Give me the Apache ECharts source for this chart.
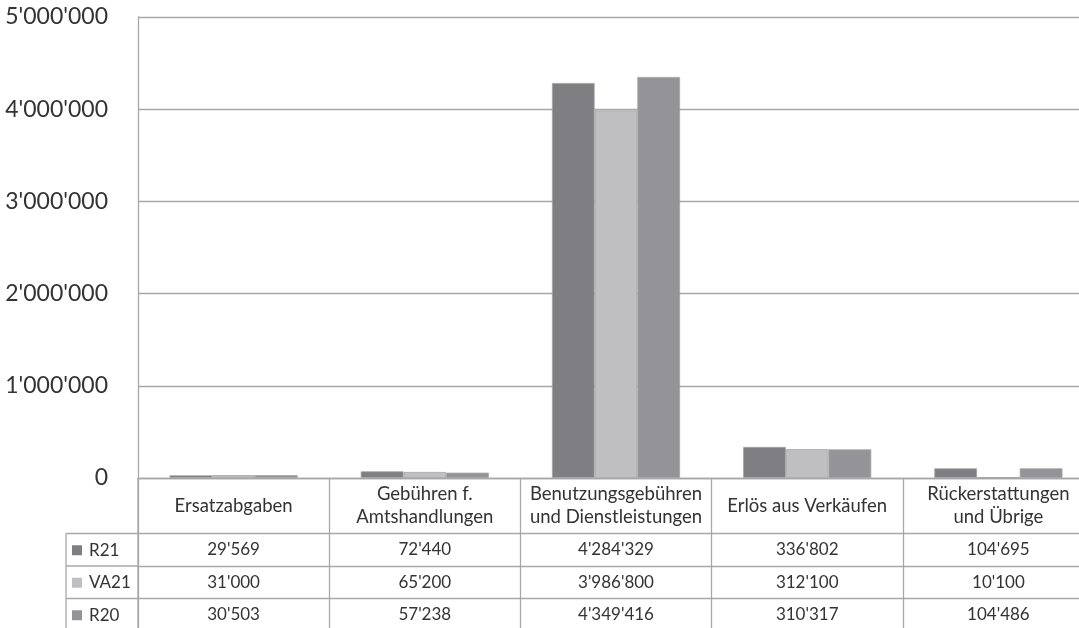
<!DOCTYPE html>
<html>
<head>
<meta charset="utf-8">
<script src="https://cdn.jsdelivr.net/npm/echarts@6/dist/echarts.min.js"></script>
<style>
  html, body { margin: 0; padding: 0; background: #fff; }
  #chart { width: 1079px; height: 628px; }
</style>
</head>
<body>
<div id="chart"></div>
<script>
// Daten
const categories = [
  "Ersatzabgaben",
  "Gebühren f.\nAmtshandlungen",
  "Benutzungsgebühren\nund Dienstleistungen",
  "Erlös aus Verkäufen",
  "Rückerstattungen\nund Übrige"
];
const seriesNames = ["R21", "VA21", "R20"];
const r21 = [29569, 72440, 4284329, 336802, 104695];
const va21 = [31000, 65200, 3986800, 312100, 10100];
const r20 = [30503, 57238, 4349416, 310317, 104486];
const yTicks = [0, 1000000, 2000000, 3000000, 4000000, 5000000];

// Layout
const gridLeft = 138, gridTop = 17, gridW = 956, gridH = 461;
const headH = 55.5, rowH = 32.5, tableLeft = 66;
const lineCol = "#a8a8a8";
const textCol = "#333333";
const font = "Lato";

function fmt(v) {
  return String(v).replace(/\B(?=(\d{3})+(?!\d))/g, "'");
}

const colors = ["#7f7f83", "#bfbfc2", "#949498"];
const rows = [r21, va21, r20];

// Tabellenzeilen als zusaetzliche x-Achsen
const rowAxes = rows.map((vals, i) => ({
  type: "category",
  gridIndex: 0,
  position: "bottom",
  offset: headH + i * rowH,
  data: vals.map(fmt),
  axisLine: { show: true, lineStyle: { color: lineCol, width: 1.3 } },
  axisTick: { show: true, length: rowH, interval: 0, lineStyle: { color: lineCol, width: 1.3 } },
  axisLabel: {
    interval: 0, margin: rowH / 2, verticalAlign: "middle",
    fontFamily: font, fontSize: 17, color: textCol
  },
  splitLine: { show: false }
}));

// Legende je Tabellenzeile
const legends = seriesNames.map((name, i) => ({
  orient: "vertical",
  left: 72,
  top: gridTop + gridH + headH + i * rowH + rowH / 2 - 8,
  data: [name],
  icon: "rect",
  itemWidth: 10,
  itemHeight: 10,
  itemGap: 0,
  padding: 0,
  selectedMode: false,
  itemStyle: { borderWidth: 0 },
  textStyle: { fontFamily: font, fontSize: 17, color: textCol, lineHeight: 16, padding: [0, 0, 0, 2] }
}));

const graphics = [];
for (let i = 0; i < 3; i++) {
  const y = gridTop + gridH + headH + i * rowH;
  graphics.push({
    type: "line", silent: true,
    shape: { x1: tableLeft, y1: y, x2: gridLeft, y2: y },
    style: { stroke: lineCol, lineWidth: 1.3 }
  });
}
graphics.push({
  type: "line", silent: true,
  shape: { x1: tableLeft, y1: gridTop + gridH + headH, x2: tableLeft, y2: 640 },
  style: { stroke: lineCol, lineWidth: 1.3 }
});
graphics.push({
  type: "line", silent: true,
  shape: { x1: gridLeft, y1: gridTop + gridH, x2: gridLeft, y2: 640 },
  style: { stroke: lineCol, lineWidth: 1.3 }
});

const option = {
  animation: false,
  backgroundColor: "#fff",
  color: colors,
  grid: {
    left: gridLeft, top: gridTop, width: gridW, height: gridH,
    containLabel: false, outerBoundsMode: "none"
  },
  legend: legends,
  xAxis: [
    {
      type: "category",
      data: categories,
      position: "bottom",
      axisLine: { show: true, lineStyle: { color: lineCol, width: 1.3 } },
      axisTick: { show: true, length: headH, interval: 0, lineStyle: { color: lineCol, width: 1.3 } },
      axisLabel: {
        interval: 0, margin: headH / 2, verticalAlign: "middle", lineHeight: 23,
        fontFamily: font, fontSize: 18.5, color: textCol
      },
      splitLine: { show: false }
    }
  ].concat(rowAxes),
  yAxis: {
    type: "value",
    min: 0,
    max: 5000000,
    interval: 1000000,
    axisLine: { show: true, lineStyle: { color: lineCol, width: 1.3 } },
    axisTick: { show: false },
    axisLabel: {
      margin: 30,
      fontFamily: font, fontSize: 23, color: textCol,
      formatter: v => (yTicks.indexOf(v) >= 0 ? fmt(v) : "")
    },
    splitLine: { show: true, lineStyle: { color: lineCol, width: 1.3 } }
  },
  series: seriesNames.map((name, i) => ({
    name: name,
    type: "bar",
    xAxisIndex: 0,
    data: rows[i],
    barGap: "0%",
    barCategoryGap: "33%",
    itemStyle: { color: colors[i], borderColor: "#a3a3a6", borderWidth: 0.8 }
  })),
  graphic: graphics
};

const chartObj = echarts.init(document.getElementById("chart"));
chartObj.setOption(option);
</script>
</body>
</html>
